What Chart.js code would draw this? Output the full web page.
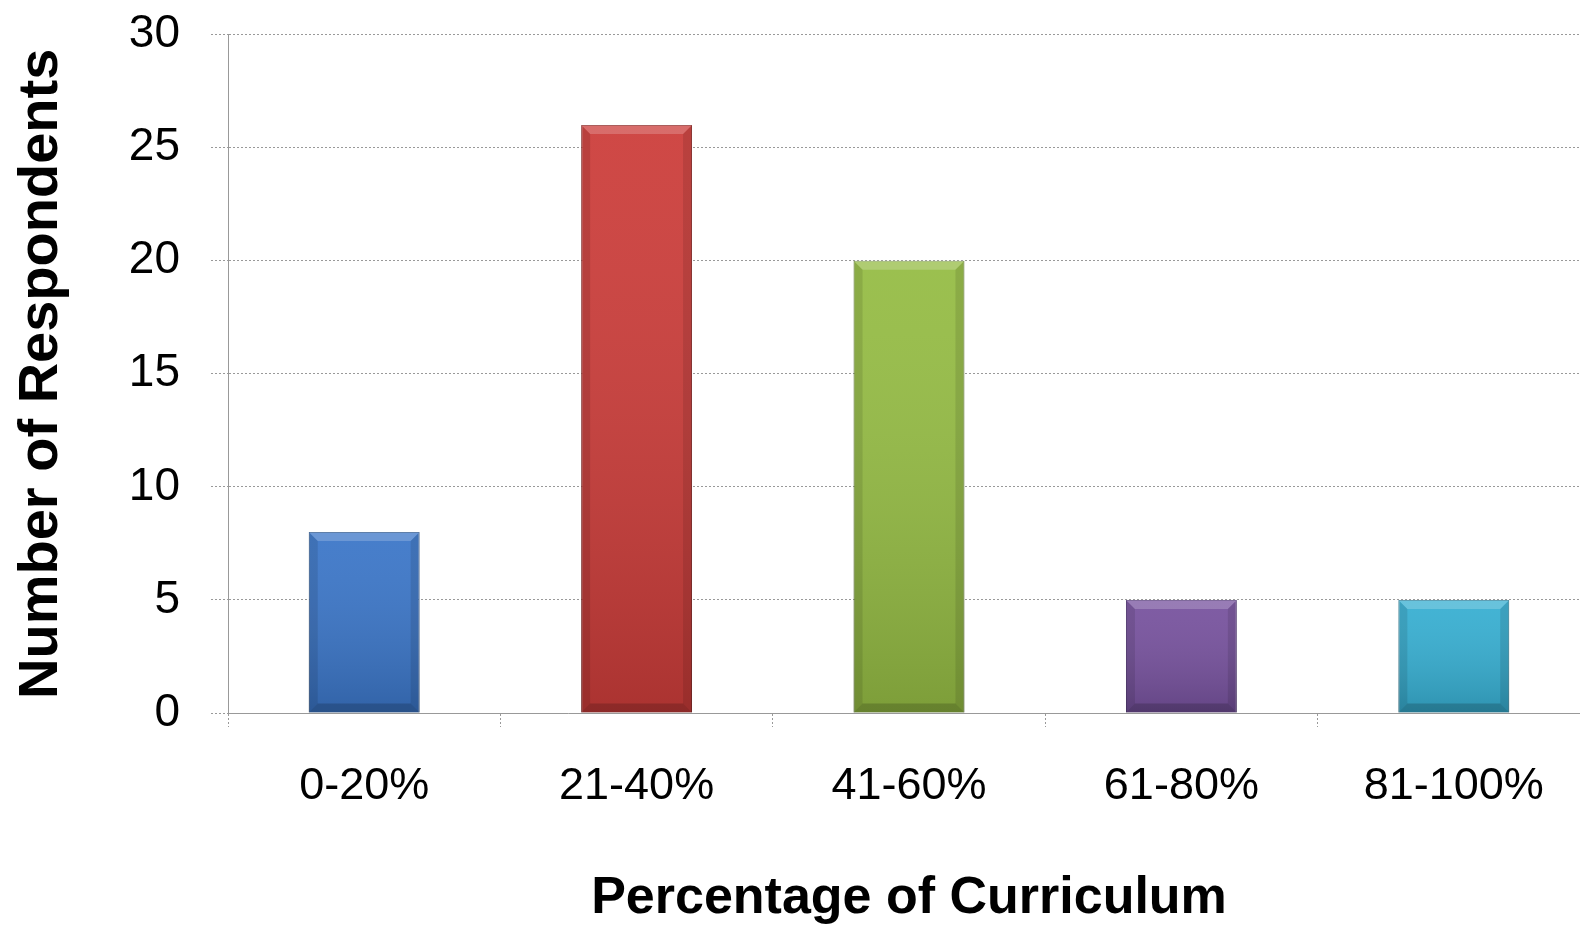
<!DOCTYPE html>
<html>
<head>
<meta charset="utf-8">
<script src="https://cdn.jsdelivr.net/npm/chart.js@4"></script>
<style>
  html, body { margin: 0; padding: 0; background: #fff; overflow: hidden; }
  #wrap { width: 1590px; height: 954px; position: absolute; left: 0; top: -24px; }
</style>
</head>
<body>
<div id="wrap"><canvas id="respChart"></canvas></div>
<script>
const categories = ['0-20%', '21-40%', '41-60%', '61-80%', '81-100%'];
const respondents = [8, 26, 20, 5, 5];
const barColors = ['#3b76c8', '#cc3d3a', '#95bc44', '#77529e', '#37afd2'];
const borderColors = ['#2c568e', '#8f2a28', '#6c8a30', '#55397a', '#2a819c'];
const yTicks = [0, 5, 10, 15, 20, 25, 30];

const FONT = '"Liberation Sans", Arial, sans-serif';

// bevel / shading over each bar, using the bar element geometry
const bevelPlugin = {
  id: 'bevel',
  afterDatasetsDraw(chart) {
    const ctx = chart.ctx;
    chart.getDatasetMeta(0).data.forEach(bar => {
      const { x, y, base, width } = bar.getProps(['x', 'y', 'base', 'width'], true);
      const l = x - width / 2, r = x + width / 2, t = y, b = base;
      const s = Math.min(9, (b - t) / 3);
      ctx.save();
      const g = ctx.createLinearGradient(0, t, 0, b);
      g.addColorStop(0, 'rgba(255,255,255,0.06)');
      g.addColorStop(1, 'rgba(0,0,0,0.16)');
      ctx.fillStyle = g;
      ctx.fillRect(l, t, width, b - t);
      // top
      ctx.fillStyle = 'rgba(255,255,255,0.2)';
      ctx.beginPath();
      ctx.moveTo(l, t); ctx.lineTo(r, t); ctx.lineTo(r - s, t + s); ctx.lineTo(l + s, t + s);
      ctx.closePath(); ctx.fill();
      // bottom
      ctx.fillStyle = 'rgba(0,0,0,0.18)';
      ctx.beginPath();
      ctx.moveTo(l, b); ctx.lineTo(r, b); ctx.lineTo(r - s, b - s); ctx.lineTo(l + s, b - s);
      ctx.closePath(); ctx.fill();
      // sides
      ctx.fillStyle = 'rgba(0,0,0,0.1)';
      ctx.beginPath();
      ctx.moveTo(l, t); ctx.lineTo(l + s, t + s); ctx.lineTo(l + s, b - s); ctx.lineTo(l, b);
      ctx.closePath(); ctx.fill();
      ctx.beginPath();
      ctx.moveTo(r, t); ctx.lineTo(r - s, t + s); ctx.lineTo(r - s, b - s); ctx.lineTo(r, b);
      ctx.closePath(); ctx.fill();
      ctx.restore();
    });
  }
};

new Chart(document.getElementById('respChart'), {
  type: 'bar',
  data: {
    labels: categories,
    datasets: [{
      data: respondents,
      backgroundColor: barColors,
      borderColor: borderColors,
      borderWidth: 1,
      barPercentage: 0.407,
      categoryPercentage: 1
    }]
  },
  options: {
    responsive: true,
    maintainAspectRatio: false,
    animation: false,
    layout: { padding: { top: 10, right: 0, bottom: 0, left: 0 } },
    plugins: {
      legend: { display: false },
      tooltip: { enabled: false }
    },
    scales: {
      x: {
        afterFit(scale) { scale.height = 217; },
        grid: {
          display: true,
          drawOnChartArea: false,
          drawTicks: true,
          tickLength: 14,
          color: '#999',
          tickBorderDash: [2, 2]
        },
        border: { display: true, color: '#999', dash: [2, 2] },
        ticks: {
          color: '#000',
          padding: 33,
          font: { family: FONT, size: 45 }
        },
        title: {
          display: true,
          text: 'Percentage of Curriculum',
          color: '#000',
          padding: { top: 0, bottom: 0 },
          font: { family: FONT, size: 52, weight: 'bold' }
        }
      },
      y: {
        min: 0,
        max: 30,
        afterFit(scale) { scale.width = 228; },
        afterBuildTicks(scale) { scale.ticks = yTicks.map(v => ({ value: v })); },
        grid: {
          color: '#999',
          lineWidth: 1,
          tickLength: 17,
          tickBorderDash: [2, 2]
        },
        border: { display: true, color: '#999', dash: [2, 2] },
        ticks: {
          color: '#000',
          padding: 31,
          font: { family: FONT, size: 46 }
        },
        title: {
          display: true,
          text: 'Number of Respondents',
          color: '#000',
          padding: { top: 8, bottom: 0 },
          font: { family: FONT, size: 56, weight: 'bold' }
        }
      }
    }
  },
  plugins: [bevelPlugin]
});
</script>
</body>
</html>
